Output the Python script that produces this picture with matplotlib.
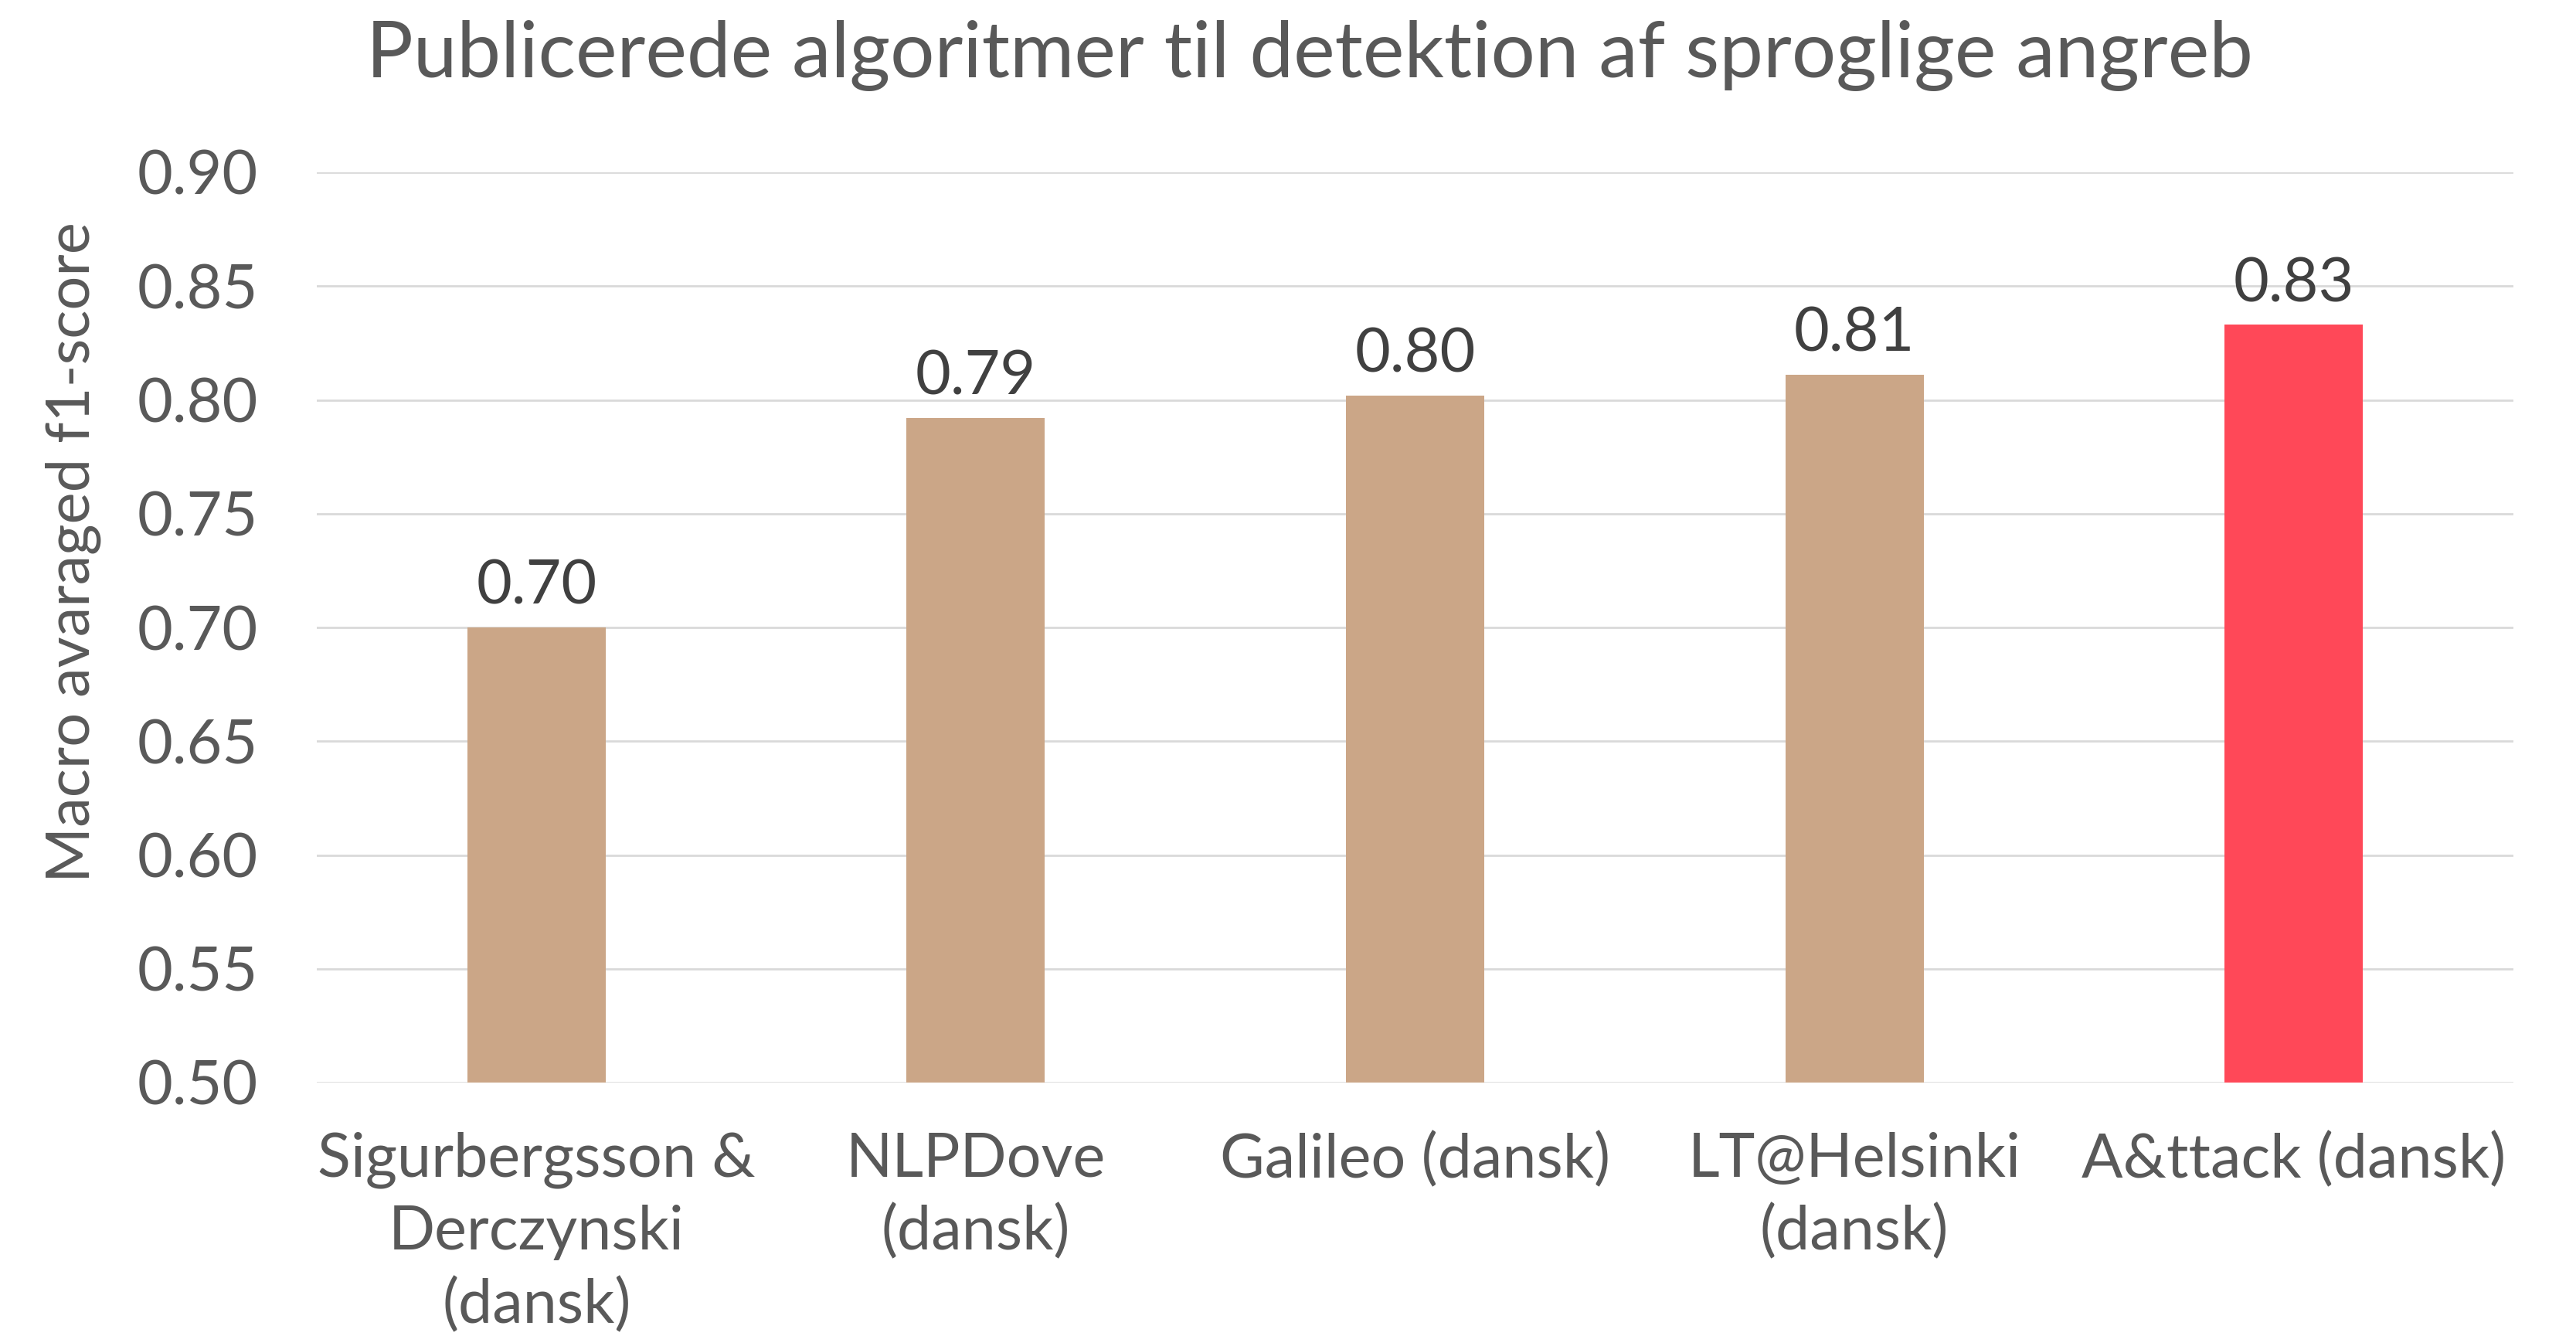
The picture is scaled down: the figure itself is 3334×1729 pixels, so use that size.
import matplotlib
matplotlib.use("Agg")
import matplotlib.pyplot as plt

# Data
categories = [
    "Sigurbergsson &\nDerczynski\n(dansk)",
    "NLPDove\n(dansk)",
    "Galileo (dansk)",
    "LT@Helsinki\n(dansk)",
    "A&ttack (dansk)",
]
scores = [0.700, 0.792, 0.802, 0.811, 0.833]
bar_colors = ["#CBA687", "#CBA687", "#CBA687", "#CBA687", "#FF4858"]
y_ticks = [0.50, 0.55, 0.60, 0.65, 0.70, 0.75, 0.80, 0.85, 0.90]

plt.rcParams["font.family"] = ["Lato", "DejaVu Sans"]

W, H, DPI = 3334, 1729, 100
fig = plt.figure(figsize=(W / DPI, H / DPI), dpi=DPI)
ax = fig.add_axes([410 / W, 1 - 1401 / H, (3253 - 410) / W, (1401 - 223) / H])

x = range(len(categories))
ax.bar(x, scores, width=0.315, color=bar_colors, zorder=3)

# value labels above the bars
for xi, v in zip(x, scores):
    ax.text(xi, v + 0.0055, f"{v:.2f}", ha="center", va="bottom",
            fontsize=57, color="#404040")

ax.set_xlim(-0.5, len(categories) - 0.5)
ax.set_ylim(0.50, 0.90)
ax.set_yticks(y_ticks)
ax.set_yticklabels([f"{t:.2f}" for t in y_ticks])
ax.set_xticks(list(x))
ax.set_xticklabels(categories, linespacing=1.36)

ax.grid(axis="y", color="#D9D9D9", linewidth=2, zorder=0)
for s in ax.spines.values():
    s.set_visible(False)
ax.tick_params(axis="both", length=0, labelsize=57, colors="#595959")
ax.tick_params(axis="x", pad=46)
ax.tick_params(axis="y", pad=55)

ax.set_ylabel("Macro avaraged f1-score", fontsize=56, color="#595959")
ax.yaxis.set_label_coords(-0.098, 0.583)
fig.text(1695 / W, 1 - 72 / H, "Publicerede algoritmer til detektion af sproglige angreb",
         ha="center", va="center", fontsize=73, color="#595959")

fig.savefig("out.png", dpi=DPI, facecolor="white")
